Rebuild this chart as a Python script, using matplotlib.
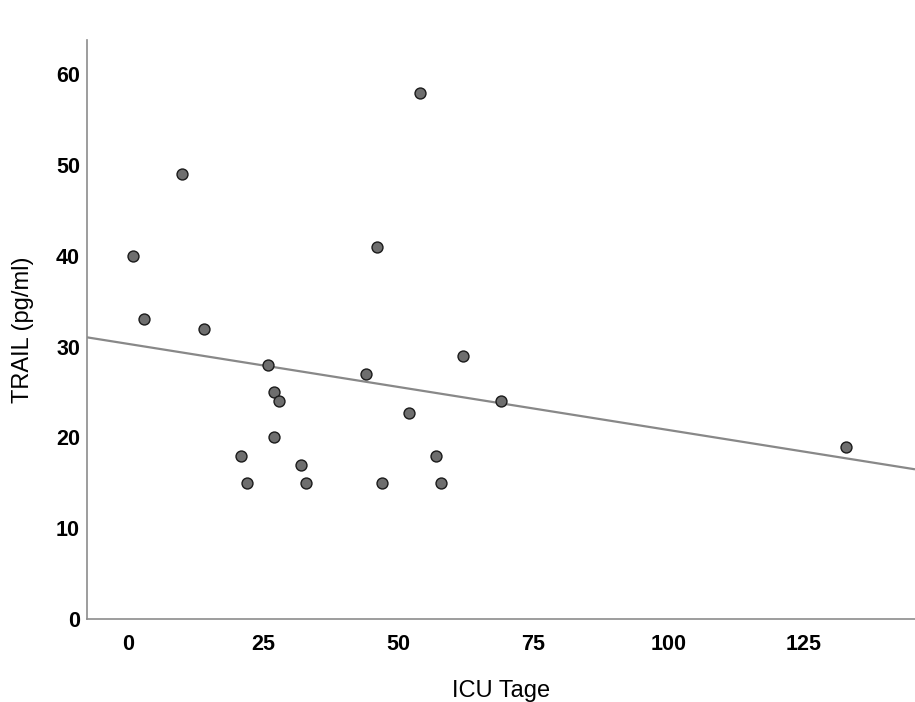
import matplotlib
matplotlib.use("Agg")
import matplotlib.pyplot as plt
import numpy as np

plt.rcParams['font.family'] = ['Liberation Sans', 'DejaVu Sans']

icu_tage = [1, 3, 10, 14, 21, 22, 26, 27, 27, 28, 32, 33, 44, 46, 47, 52, 54, 57, 58, 62, 69, 133]
trail = [40, 33, 49, 32, 18, 15, 28, 25, 20, 24, 17, 15, 27, 41, 15, 22.7, 58, 18, 15, 29, 24, 19]
x_ticks = [0, 25, 50, 75, 100, 125]
y_ticks = [0, 10, 20, 30, 40, 50, 60]

fig = plt.figure(figsize=(9.15, 7.02), dpi=100)
ax = fig.add_axes([0.0951, 0.1182, 0.9049, 0.825])

xlim = (-7.6, 145.7)
ylim = (0, 63.8)

x = np.array(icu_tage, dtype=float)
y = np.array(trail, dtype=float)
slope, intercept = np.polyfit(x, y, 1)
xl = np.array(xlim)
ax.plot(xl, intercept + slope * xl, color='#888888', lw=1.6, zorder=2, solid_capstyle='butt')

ax.scatter(x, y, s=62, facecolor='#6e6e6e', edgecolor='#1a1a1a', linewidths=1.0, zorder=3)

ax.set_xlim(*xlim)
ax.set_ylim(*ylim)
ax.set_xticks(x_ticks)
ax.set_yticks(y_ticks)
for s in ['top', 'right']:
    ax.spines[s].set_visible(False)
for s in ['left', 'bottom']:
    ax.spines[s].set_color('#8c8c8c')
    ax.spines[s].set_linewidth(1.2)
ax.tick_params(length=0, labelsize=15.5)
ax.tick_params(axis='x', pad=11)
ax.tick_params(axis='y', pad=5)
for lab in ax.get_xticklabels() + ax.get_yticklabels():
    lab.set_fontweight('bold')
ax.set_xlabel('ICU Tage', fontsize=17, labelpad=18)
ax.set_ylabel('TRAIL (pg/ml)', fontsize=17, labelpad=16)

fig.savefig('out.png', dpi=100)
